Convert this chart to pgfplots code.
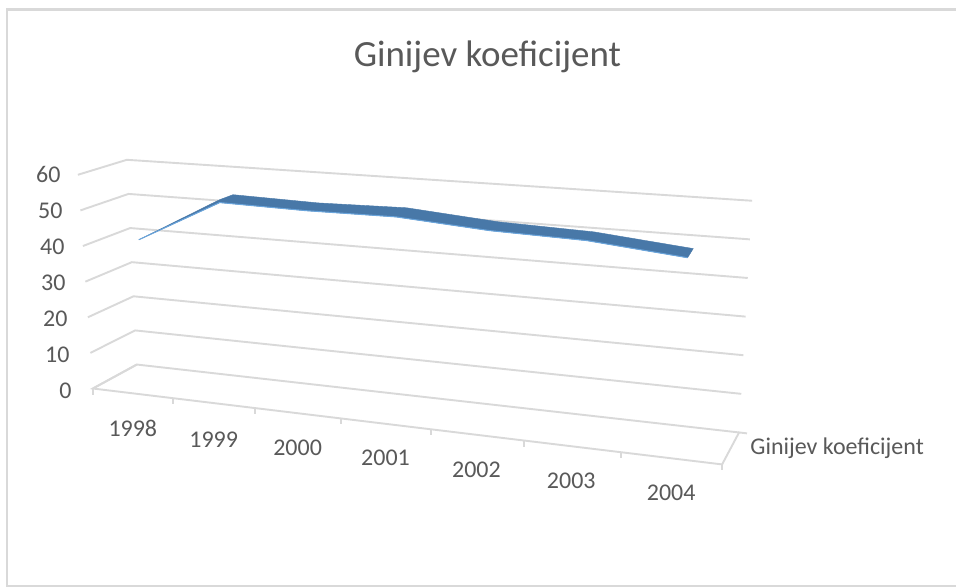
\documentclass[border=0pt]{standalone}
\usepackage{fontspec}
\setmainfont{Carlito}
\usepackage{pgfplots}
\usepackage{pgfplotstable}
\pgfplotsset{compat=1.18}
\definecolor{gridc}{HTML}{D9D9D9}
\definecolor{txt}{HTML}{595959}
\definecolor{rib}{HTML}{4878A8}
\definecolor{ribedge}{HTML}{6AA5DC}
\tikzset{lab/.style={text=txt, font=\fontsize{12}{14}\selectfont, inner sep=0pt}}
% columns: c = position along the category axis (1998 = 0.5 ... 2004 = 6.5), d = depth, z = value
\pgfplotstableread{
c d z
0.5 0.34 41
1.5 0.34 54.0
1.5 0.66 53.9
2.5 0.66 53.3
3.5 0.66 53.7
4.5 0.66 51.7
5.5 0.66 50.9
6.5 0.66 48.5
6.5 0.34 47.9
5.5 0.34 50.3
4.5 0.34 51
3.5 0.34 52.8
2.5 0.34 52.7
1.5 0.34 53.2
0.5 0.34 41
}\ribbon
\pgfplotstableread{
c d z
0.5 0.34 41
1.5 0.34 53.2
2.5 0.34 52.7
3.5 0.34 52.8
4.5 0.34 51
5.5 0.34 50.3
6.5 0.34 47.9
}\ribbonfront
\pgfplotstableread{
c d
0 0
0 1
7 1
}\wallpath
\pgfplotstableread{
c d
0 1
0 0
7 0
7 1
7.08 1
}\floorpath
\begin{document}
\begin{tikzpicture}[declare function={
  sf(\p)=(\p/7)*0.87/((1-\p/7)+(\p/7)*0.87);
  puz(\p,\q)=(1-\q)*(93+630*sf(\p))+\q*(137+603*sf(\p));
  put(\p,\q)=(1-\q)*(78+661*sf(\p))+\q*(127+626*sf(\p));
  pvz(\p,\q)=(1-\q)*(389+76*sf(\p))+\q*(365+68*sf(\p));
  pvt(\p,\q)=(1-\q)*(175+45*sf(\p))+\q*(160+41*sf(\p));
  pu(\p,\q,\r)=puz(\p,\q)+(\r/60)*(put(\p,\q)-puz(\p,\q));
  pv(\p,\q,\r)=pvz(\p,\q)+(\r/60)*(pvt(\p,\q)-pvz(\p,\q));
}]
\begin{axis}[
  scale only axis, width=478.5pt, height=294pt,
  xmin=0, xmax=957, ymin=0, ymax=588, y dir=reverse,
  axis lines=none, clip=false,
  grid line/.style={draw=gridc, line width=0.95pt, mark=none},
]
% page area
\addplot[draw=white, line width=0pt, fill=white, mark=none] coordinates {(0,0) (957,0) (957,588) (0,588) (0,0)};
% chart frame
\addplot[draw=gridc, line width=1.2pt, mark=none] coordinates {(957,9.5) (7,9.5) (7,586.5) (957,586.5)};
% walls
\pgfplotsinvokeforeach{0,10,20,30,40,50,60}{
  \addplot[grid line] table[x expr={pu(\thisrow{c},\thisrow{d},#1)}, y expr={pv(\thisrow{c},\thisrow{d},#1)}] {\wallpath};
}
\addplot[grid line] table[x expr={pu(\thisrow{c},\thisrow{d},0)}, y expr={pv(\thisrow{c},\thisrow{d},0)}] {\floorpath};
% ticks on the category axis
\pgfplotsinvokeforeach{0,1,2,3,4,5,6,7}{
  \addplot[grid line] coordinates {({pu(#1,0,0)},{pv(#1,0,0)}) ({pu(#1,0,0)},{pv(#1,0,0)+6})};
}
% the ribbon of the series
\addplot[fill=rib, draw=rib, line width=0.2pt, mark=none] table[x expr={pu(\thisrow{c},\thisrow{d},\thisrow{z})}, y expr={pv(\thisrow{c},\thisrow{d},\thisrow{z})}] {\ribbon};
\addplot[draw=ribedge, line width=0.5pt, mark=none] table[x expr={pu(\thisrow{c},\thisrow{d},\thisrow{z})}, y expr={pv(\thisrow{c},\thisrow{d},\thisrow{z})}] {\ribbonfront};
% texts
\node[lab, anchor=center, font=\fontsize{18.5}{22}\selectfont] at (axis cs:488,57) {Ginijev koeficijent};
\node[lab, anchor=east] at (axis cs:61,175) {60};
\node[lab, anchor=east] at (axis cs:63,211) {50};
\node[lab, anchor=east] at (axis cs:65,247) {40};
\node[lab, anchor=east] at (axis cs:66,283) {30};
\node[lab, anchor=east] at (axis cs:68,319) {20};
\node[lab, anchor=east] at (axis cs:70,355) {10};
\node[lab, anchor=east] at (axis cs:72,391) {0};
\node[lab] at (axis cs:133,429) {1998};
\node[lab] at (axis cs:214,440) {1999};
\node[lab] at (axis cs:298,448) {2000};
\node[lab] at (axis cs:386,458) {2001};
\node[lab] at (axis cs:477,470) {2002};
\node[lab] at (axis cs:572,481) {2003};
\node[lab] at (axis cs:672,493) {2004};
\node[lab, anchor=west] at (axis cs:751,449) {Ginijev koeficijent};
\end{axis}
\end{tikzpicture}
\end{document}
